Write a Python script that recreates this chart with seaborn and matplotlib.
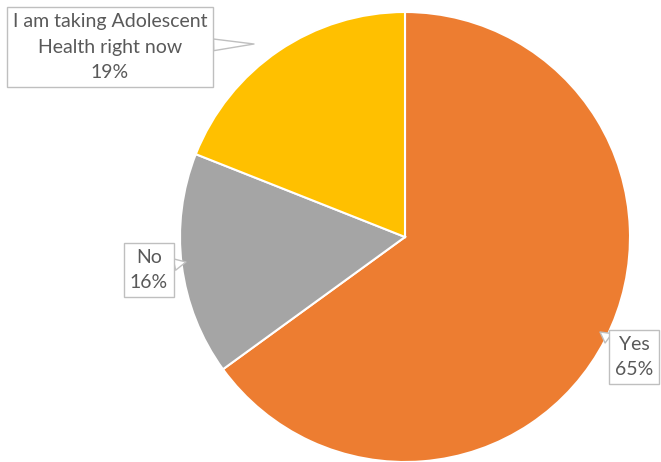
import matplotlib.pyplot as plt
import seaborn as sns

sns.set_theme(style="white")
plt.rcParams["font.family"] = ["Lato", "DejaVu Sans"]

labels = ["Yes", "No", "I am taking Adolescent\nHealth right now"]
values = [65, 16, 19]
colors = ["#ED7D31", "#A5A5A5", "#FFC000"]

# label box centers and pointer tips (pixel coords, y from bottom)
label_pos = [(634, 105), (149, 192), (110, 415)]
tips = [(600, 130), (186, 200), (254, 418)]

fig = plt.figure(figsize=(6.61, 4.62), dpi=100)
ax = fig.add_axes([0, 0, 1, 1])

ax.pie(values, colors=colors, startangle=90, counterclock=False,
       center=(405, 225), radius=225, frame=True,
       wedgeprops=dict(edgecolor="white", linewidth=1.5))
ax.set_xlim(0, 661)
ax.set_ylim(0, 462)
ax.set_aspect("equal")
ax.axis("off")

for lab, v, pos, tip in zip(labels, values, label_pos, tips):
    ax.annotate(f"{lab}\n{v}%", xy=tip, xytext=pos, ha="center", va="center",
                fontsize=14, color="#595959", linespacing=1.6,
                bbox=dict(boxstyle="square,pad=0.3", fc="white", ec="#BFBFBF", lw=1),
                arrowprops=dict(arrowstyle="wedge,tail_width=0.6", fc="white",
                                ec="#BFBFBF", lw=1, shrinkA=0, shrinkB=0))

fig.savefig("out.png", dpi=100)
